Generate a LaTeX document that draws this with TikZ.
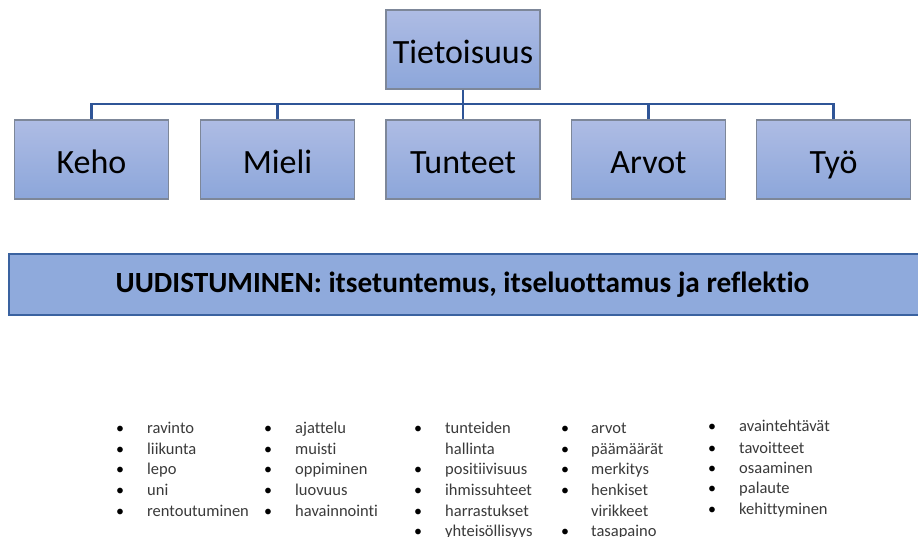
\documentclass[tikz,border=0pt]{standalone}
\usepackage{fontspec}
\setmainfont{Carlito}[Ligatures={NoCommon}]
\definecolor{boxtop}{HTML}{AEBCE4}
\definecolor{boxbot}{HTML}{8CA6DA}
\definecolor{boxline}{HTML}{7D8799}
\definecolor{busline}{HTML}{2F5597}
\definecolor{barfill}{HTML}{8FAADC}
\definecolor{barline}{HTML}{3A62A0}
\definecolor{itemtext}{HTML}{3A3A3A}
\begin{document}
\begin{tikzpicture}[x=1pt,y=-1pt,
  cbox/.style={draw=boxline,line width=1.2pt,shade,top color=boxtop,bottom color=boxbot,
    minimum width=154pt,minimum height=79pt,inner sep=0pt,
    text height=27pt,text depth=0pt,
    font=\fontsize{34}{40}\selectfont,text=black},
  conn/.style={draw=busline,line width=2.2pt},
  bartext/.style={font=\fontsize{29.3}{34}\selectfont\bfseries},
  item/.style={anchor=base west,inner sep=0pt,text=itemtext,font=\fontsize{16.5}{19}\selectfont},
  bul/.style={anchor=base,inner sep=0pt,text=black,font=\fontsize{16}{19}\selectfont}
]
\useasboundingbox (0,0) rectangle (918,536);
\clip (0,0) rectangle (918,536);
\fill[white] (0,0) rectangle (918,536);

% tree
\node[cbox] (top) at (463,49.5) {Tietoisuus};
\node[cbox] (keho) at (91.5,159.5) {Keho};
\node[cbox] (mieli) at (277.5,159.5) {Mieli};
\node[cbox] (tunteet) at (463,159.5) {Tunteet};
\node[cbox] (arvot) at (648.5,159.5) {Arvot};
\node[cbox] (tyo) at (833.5,159.5) {Työ};
\coordinate (bus) at (463,104);
\draw[conn] (top.south) -- (bus);
\draw[conn] (keho.north) |- (bus) -| (tyo.north);
\foreach \c in {mieli,tunteet,arvot}
  \draw[conn] (\c.north) -- (\c.north |- bus);

% bar
\node[draw=barline,line width=2pt,fill=barfill,minimum width=911pt,minimum height=61pt,
  inner sep=0pt] (bar) at (464.5,284.5) {};
\node[bartext] (bartxt) at (462.5,284.5) {UUDISTUMINEN: itsetuntemus, itseluottamus ja reflektio};

% lists
\foreach \t [count=\i] in {ravinto,liikunta,lepo,uni,rentoutuminen}{
  \pgfmathsetmacro{\yy}{\i==1 ? 433 : (\i==2 ? 454 : (\i==3 ? 474 : (\i==4 ? 495 : 516)))}
  \node[bul] (b1\i) at (120,\yy) {•};
  \node[item] (a1\i) at (147,\yy) {\t};
}
\foreach \t [count=\i] in {ajattelu,muisti,oppiminen,luovuus,havainnointi}{
  \pgfmathsetmacro{\yy}{\i==1 ? 433 : (\i==2 ? 454 : (\i==3 ? 474 : (\i==4 ? 495 : 516)))}
  \node[bul] (b2\i) at (268,\yy) {•};
  \node[item] (a2\i) at (295,\yy) {\t};
}
% column 3
\node[bul] (b31) at (418,433) {•};
\node[item] (a31) at (445,433) {tunteiden};
\node[item] (a32) at (445,454) {hallinta};
\node[bul] (b33) at (418,474) {•};
\node[item] (a33) at (445,474) {positiivisuus};
\node[bul] (b34) at (418,495) {•};
\node[item] (a34) at (445,495) {ihmissuhteet};
\node[bul] (b35) at (418,516) {•};
\node[item] (a35) at (445,516) {harrastukset};
\node[bul] (b36) at (418,536) {•};
\node[item] (a36) at (445,536) {yhteisöllisyys};
% column 4
\node[bul] (b41) at (565,433) {•};
\node[item] (a41) at (591,433) {arvot};
\node[bul] (b42) at (565,454) {•};
\node[item] (a42) at (591,454) {päämäärät};
\node[bul] (b43) at (565,474) {•};
\node[item] (a43) at (591,474) {merkitys};
\node[bul] (b44) at (565,495) {•};
\node[item] (a44) at (591,495) {henkiset};
\node[item] (a45) at (591,516) {virikkeet};
\node[bul] (b46) at (565,536) {•};
\node[item] (a46) at (591,536) {tasapaino};
% column 5
\foreach \t [count=\i] in {avaintehtävät,tavoitteet,osaaminen,palaute,kehittyminen}{
  \pgfmathsetmacro{\yy}{\i==1 ? 431 : (\i==2 ? 453 : (\i==3 ? 473 : (\i==4 ? 493 : 514)))}
  \node[bul] (b5\i) at (712,\yy) {•};
  \node[item] (a5\i) at (739,\yy) {\t};
}
\end{tikzpicture}
\end{document}
